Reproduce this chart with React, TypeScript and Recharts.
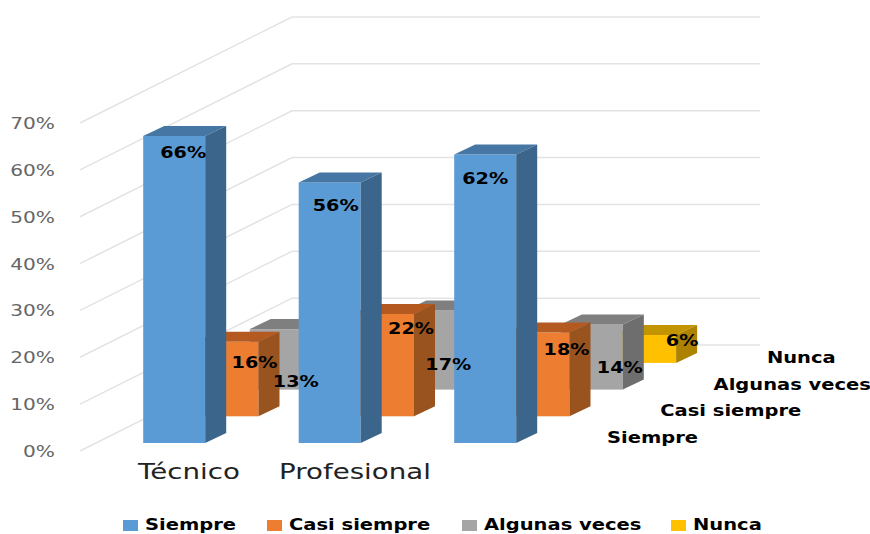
import React from 'react';
import { BarChart, Bar, CartesianGrid, XAxis, YAxis, Legend, LabelList } from 'recharts';

const categories = ['Técnico', 'Profesional', ''];
const seriesNames = ['Siempre', 'Casi siempre', 'Algunas veces', 'Nunca'];
const siempre = [66, 56, 62];
const casiSiempre = [16, 22, 18];
const algunasVeces = [13, 17, 14];
const nunca = [null, null, 6];
const percentTicks = [0, 10, 20, 30, 40, 50, 60, 70];

const seriesValues = [siempre, casiSiempre, algunasVeces, nunca];
const chartData = categories.map((category, i) => {
    const row: any = { category };
    seriesNames.forEach((name, s) => {
        row[name] = seriesValues[s][i];
    });
    return row;
});

// front / top / side faces of each series
const faces = [
    ['#5B9BD5', '#4676A3', '#3B658B'],
    ['#ED7D31', '#B45A20', '#99531E'],
    ['#A5A5A5', '#7F7F7F', '#6E6E6E'],
    ['#FFC000', '#C29400', '#AD8200'],
];

const FONT = '"DejaVu Sans", sans-serif';
const BAR_SIZE = 62;
const ROW_DX = 53.3;
const ROW_DY = -26.7;
const FRONT_LIFT = -8;
const BOX_DX = 21;
const BOX_DY = -10;
const WALL_X = 80;
const WALL_DX = 212;
const WALL_DY = -106;
const WALL_END = 760;

// where each percentage sits, relative to the bar's top centre.
// LabelList skips empty cells, so Nunca only has the one entry
const labelNudge = [
    [[9, 24], [6, 30], [0, 32]],
    [[27, 27], [28, 21], [28, 23]],
    [[15, 58], [12, 60], [28, 49]],
    [[37, 11]],
];

const categoryNudge = [15, 25.5, 0];
const legendX = [123, 267, 462, 671];

const WideText = ({ x, y, sx, anchor = 'start', size, weight = 'normal', fill = '#000', children }: any) => (
    <text
        transform={`translate(${x},${y}) scale(${sx},1)`}
        textAnchor={anchor}
        fontFamily={FONT}
        fontSize={size}
        fontWeight={weight}
        fill={fill}>
        {children}
    </text>
);

// a bar pushed back to its depth row, with top and side faces
const Box3D = ({ x, y, width, height, row }: any) => {
    if (!height) return null;
    const left = x + ROW_DX * row;
    const right = left + width;
    const top = y + FRONT_LIFT + ROW_DY * row;
    const bottom = top + height;
    const [front, topFace, side] = faces[row];
    return (
        <g>
            <rect x={left} y={top} width={width} height={height} fill={front} />
            <polygon
                points={`${left},${top} ${left + BOX_DX},${top + BOX_DY} ${right + BOX_DX},${top + BOX_DY} ${right},${top}`}
                fill={topFace}
            />
            <polygon
                points={`${right},${top} ${right + BOX_DX},${top + BOX_DY} ${right + BOX_DX},${bottom + BOX_DY} ${right},${bottom}`}
                fill={side}
            />
        </g>
    );
};

const ValueLabel = ({ x, y, width, value, index, row }: any) => {
    if (value === null || value === undefined) return null;
    const [dx, dy] = labelNudge[row][index];
    const cx = x + width / 2 + ROW_DX * row + dx;
    const top = y + FRONT_LIFT + ROW_DY * row + dy;
    return (
        <WideText x={cx} y={top} sx={1.2} anchor="middle" size={16} weight="bold">
            {`${value}%`}
        </WideText>
    );
};

// gridline running along the side wall and then the back wall
const wallLine = ({ y1, index }: any) => (
    <polyline
        key={index}
        points={`${WALL_X},${y1} ${WALL_X + WALL_DX},${y1 + WALL_DY} ${WALL_END},${y1 + WALL_DY}`}
        fill="none"
        stroke="#E3E3E3"
        strokeWidth={1.5}
    />
);

const PercentTick = ({ y, payload }: any) => (
    <WideText x={55} y={y + 6} sx={1.26} anchor="end" size={16} fill="#666">
        {`${payload.value}%`}
    </WideText>
);

const CategoryTick = ({ x, y, payload, index }: any) => (
    <WideText x={x + categoryNudge[index]} y={y + 20} sx={1.35} anchor="middle" size={20.5} fill="#222">
        {payload.value}
    </WideText>
);

// the label pass shows up in the payload too, so only the coloured bars are listed
const SeriesLegend = ({ payload }: any) => {
    const shown = (payload || []).filter((p: any) => p.type !== 'none');
    const items = seriesNames.filter((name) => shown.some((p: any) => p.value === name));
    return (
        <div style={{ position: 'relative', height: 20 }}>
            {items.map((name: string, i: number) => (
                <React.Fragment key={name}>
                    <span
                        style={{
                            position: 'absolute',
                            left: legendX[i],
                            top: 6,
                            width: 15,
                            height: 11,
                            background: faces[i][0],
                        }}
                    />
                    <span
                        style={{
                            position: 'absolute',
                            left: legendX[i] + 22,
                            top: 2,
                            fontFamily: FONT,
                            fontSize: 15,
                            lineHeight: '18px',
                            fontWeight: 'bold',
                            color: '#000',
                            whiteSpace: 'nowrap',
                            transform: 'scaleX(1.3)',
                            transformOrigin: 'left',
                        }}>
                        {name}
                    </span>
                </React.Fragment>
            ))}
        </div>
    );
};

// depth axis names, stepping back with each row
const DepthLabels = () => (
    <g>
        {seriesNames.map((name, row) => (
            <WideText
                key={name}
                x={607 + ROW_DX * row}
                y={443 + ROW_DY * row}
                sx={1.3}
                size={15}
                weight="bold">
                {name}
            </WideText>
        ))}
    </g>
);

const App = () => {
    const drawOrder = [3, 2, 1, 0];
    return (
        <div style={{ position: 'absolute', left: 0, top: 0, width: 870, height: 534 }}>
            <BarChart
                width={870}
                height={534}
                data={chartData}
                barSize={BAR_SIZE}
                barGap={-BAR_SIZE}
                margin={{ top: 123, right: 307.3, left: 95.2, bottom: 0 }}>
                <CartesianGrid vertical={false} horizontal={wallLine} />
                <XAxis dataKey="category" height={83} axisLine={false} tickLine={false} interval={0} tick={<CategoryTick />} />
                {/* an axis of zero width draws no ticks */}
                <YAxis
                    width={1}
                    domain={[0, 70]}
                    ticks={percentTicks}
                    interval={0}
                    axisLine={false}
                    tickLine={false}
                    tick={<PercentTick />}
                />
                <YAxis yAxisId="bars" hide width={0} domain={[0, 70.5]} />
                <Legend verticalAlign="middle" wrapperStyle={{ left: 0, top: 514, width: 870 }} content={<SeriesLegend />} />
                {drawOrder.map((row) => (
                    <Bar
                        key={seriesNames[row]}
                        yAxisId="bars"
                        dataKey={seriesNames[row]}
                        fill={faces[row][0]}
                        isAnimationActive={false}
                        shape={(props: any) => <Box3D {...props} row={row} />}
                    />
                ))}
                {/* percentages go in a last pass so no bar covers them */}
                {drawOrder.map((row) => (
                    <Bar
                        key={`${seriesNames[row]}-labels`}
                        dataKey={seriesNames[row]}
                        legendType="none"
                        isAnimationActive={false}
                        shape={() => null}>
                        <LabelList content={(props: any) => <ValueLabel {...props} row={row} />} />
                    </Bar>
                ))}
                <DepthLabels />
            </BarChart>
        </div>
    );
};

export default App;
